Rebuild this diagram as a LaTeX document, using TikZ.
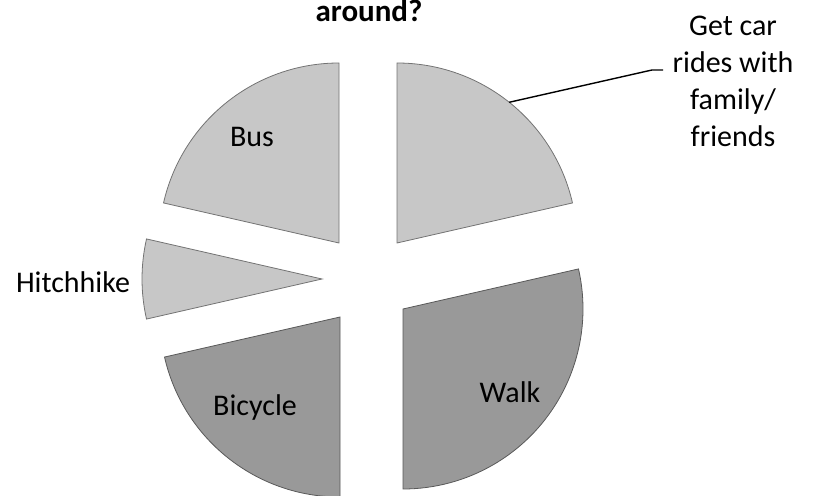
\documentclass[tikz,border=0pt]{standalone}
\usepackage{fontspec}
\setmainfont{Carlito}
\usetikzlibrary{calc}
\begin{document}
\begin{tikzpicture}[x=1pt,y=1pt,
  lightslice/.style={fill=black!22, draw=black!55, line width=0.8pt},
  darkslice/.style={fill=black!40, draw=black!65, line width=0.8pt},
  lbl/.style={font=\fontsize{30}{37}\selectfont, text=black, inner sep=0pt},
  ttl/.style={font=\bfseries\fontsize{31}{37}\selectfont, inner sep=0pt}]
\useasboundingbox (0,0) rectangle (813,495);
% apices
\coordinate (carC) at (397,252);
\coordinate (busC) at (339,252);
\coordinate (hitC) at (322,216);
\coordinate (bicC) at (340,178);
\coordinate (walC) at (403,186);
% slices
\draw[lightslice] (carC) -- ++(12.86:180) arc[start angle=12.86, end angle=90, radius=180] -- cycle;
\draw[lightslice] (busC) -- ++(90:180) arc[start angle=90, end angle=167.14, radius=180] -- cycle;
\draw[lightslice] (hitC) -- ++(167.14:180) arc[start angle=167.14, end angle=192.86, radius=180] -- cycle;
\draw[darkslice] (bicC) -- ++(192.86:180) arc[start angle=192.86, end angle=270, radius=180] -- cycle;
\draw[darkslice] (walC) -- ++(-90:180) arc[start angle=-90, end angle=12.86, radius=180] -- cycle;
% labels
\node[ttl] (title) at (369,484) {around?};
\node[lbl] (bus) at (252,358) {Bus};
\node[lbl] (hitch) at (73,213) {Hitchhike};
\node[lbl] (bicycle) at (255,87) {Bicycle};
\node[lbl] (walk) at (510,103) {Walk};
\node[lbl, align=center] (car) at (733,414) {Get car\\rides with\\family/\\friends};
% leader
\coordinate (carpt) at ($(carC)+(51.43:180)$);
\coordinate (bend) at (652,425);
\coordinate (lend) at (663,425);
\draw[line width=1.4pt, black] (carpt) -- (bend) -- (lend);
\end{tikzpicture}
\end{document}
